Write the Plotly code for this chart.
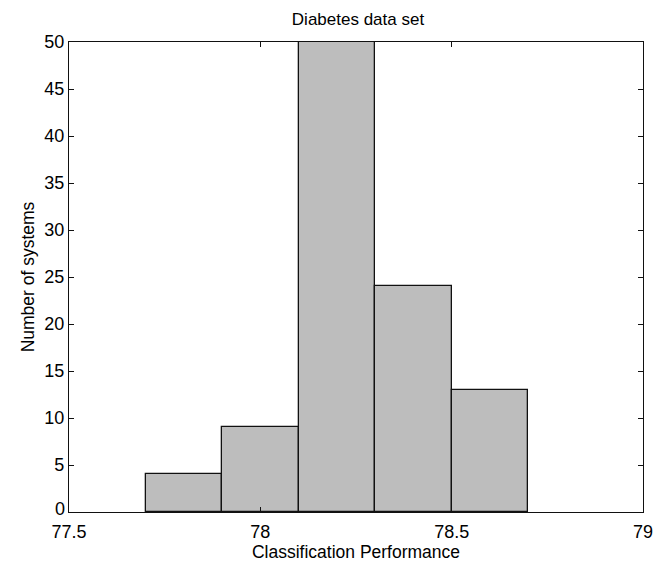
import plotly.graph_objects as go

# Histogram data
bin_edges = [77.7, 77.9, 78.1, 78.3, 78.5, 78.7]
counts = [4, 9, 50, 24, 13]
x_ticks = [77.5, 78, 78.5, 79]
x_tick_labels = ["77.5", "78", "78.5", "79"]
y_ticks = [0, 5, 10, 15, 20, 25, 30, 35, 40, 45, 50]
y_tick_labels = [str(v) for v in y_ticks]

centers = [(a + b) / 2 for a, b in zip(bin_edges[:-1], bin_edges[1:])]
widths = [b - a for a, b in zip(bin_edges[:-1], bin_edges[1:])]

FONT = "Liberation Sans, Arial, sans-serif"
TICK_SIZE = 18

# the page body has an 8px margin, so the figure is sized to fit inside it
W, H = 657, 558
ML, MR, MT, MB = 61, 18, 34, 49

fig = go.Figure(
    go.Bar(
        x=centers,
        y=counts,
        width=widths,
        marker=dict(color="#bdbdbd", line=dict(color="#111111", width=1.3)),
        showlegend=False,
    )
)

axis_common = dict(
    showline=True,
    linecolor="#111111",
    linewidth=1.3,
    mirror="allticks",
    ticks="inside",
    ticklen=5,
    tickcolor="#111111",
    tickwidth=1.2,
    showgrid=False,
    zeroline=False,
    tickfont=dict(family=FONT, size=TICK_SIZE, color="black"),
)

# the lowest y tick label is drawn slightly raised so it clears the x tick labels
y_ticktext = [""] + y_tick_labels[1:]
fig.add_annotation(
    x=0, xref="paper", xanchor="right", xshift=-2,
    y=y_ticks[0], yref="y", yanchor="middle", yshift=3,
    text=y_tick_labels[0], showarrow=False,
    font=dict(family=FONT, size=TICK_SIZE, color="black"),
)

fig.update_layout(
    width=W,
    height=H,
    margin=dict(l=ML, r=MR, t=MT, b=MB),
    paper_bgcolor="white",
    plot_bgcolor="white",
    bargap=0,
    title=dict(
        text="Diabetes data set",
        x=(ML + (W - MR)) / 2 / W,
        xanchor="center",
        y=1 - 11 / H,
        yanchor="middle",
        font=dict(family=FONT, size=17, color="black"),
    ),
    xaxis=dict(
        range=[77.5, 79],
        tickvals=x_ticks,
        ticktext=x_tick_labels,
        ticklabelstandoff=3,
        title=dict(text="Classification Performance", font=dict(family=FONT, size=17.5, color="black"), standoff=0),
        **axis_common,
    ),
    yaxis=dict(
        range=[0, 50],
        tickvals=y_ticks,
        ticktext=y_ticktext,
        title=dict(text="Number of systems", font=dict(family=FONT, size=17.5, color="black"), standoff=5),
        **axis_common,
    ),
)

fig.write_html("out.html")
